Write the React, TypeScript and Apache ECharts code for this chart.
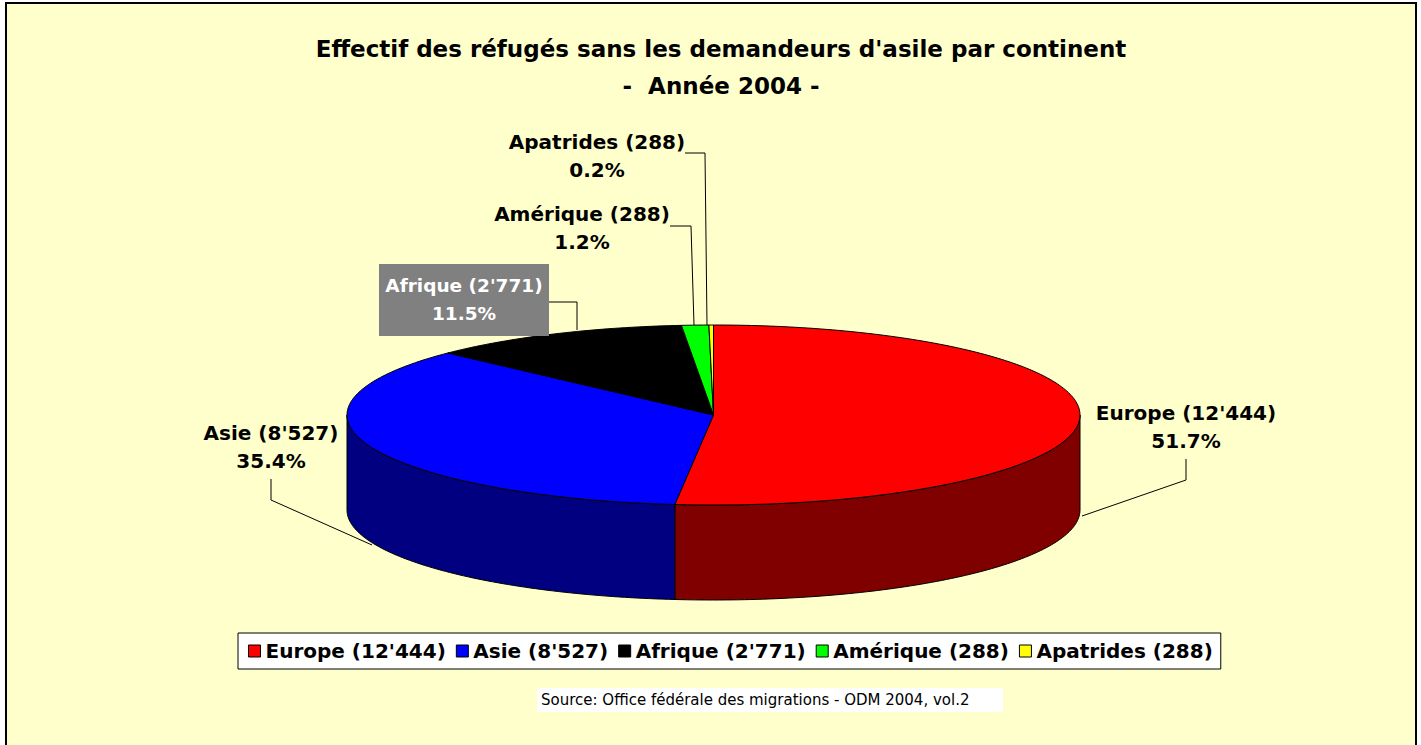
import React, { useEffect, useRef } from "react";
import * as echarts from "echarts";

const NAMES = ["Europe (12'444)", "Asie (8'527)", "Afrique (2'771)", "Amérique (288)", "Apatrides (288)"];
const VALUES = [12444, 8527, 2771, 288, 48];
const TOP_COLORS = ["#FF0000", "#0000FF", "#000000", "#00FF00", "#FFFF00"];
const SIDE_COLORS = ["#800000", "#000080", "#000000", "#008000", "#808000"];

const TITLE = "Effectif des réfugés sans les demandeurs d'asile par continent\n-  Année 2004 -";
const SOURCE = "Source: Office fédérale des migrations - ODM 2004, vol.2";

// layout (positions only)
const CX = 713.5, CY = 415, RX = 366.5, RY = 90, DEPTH = 95;
const LABEL_POS = [[1186, 427], [271, 447], [464, 299], [582, 228], [597, 156]];
const LABEL_SIZE = [20, 20, 18.5, 20, 20];
const LEADERS = [
  [[1186, 459], [1186, 480], [1082, 516]],
  [[271, 479], [271, 500], [372, 545]],
  [[549, 302], [577, 302], [577, 330]],
  [[670, 226], [691, 226], [694, 325]],
  [[685, 153], [705, 153], [707, 325]],
];
const BOLD_FONT = "'DejaVu Sans', 'Liberation Sans', Arial, sans-serif";
const FONT = "'DejaVu Sans', 'Liberation Sans', Arial, sans-serif";

const TOTAL = VALUES.reduce((a, b) => a + b, 0);
const CUM: number[] = [];
VALUES.reduce((acc, v) => { CUM.push(acc); return acc + v; }, 0);

function pt(theta: number, dy = 0): number[] {
  return [CX + RX * Math.sin(theta), CY - RY * Math.cos(theta) + dy];
}
function arc(a: number, b: number, dy = 0): number[][] {
  const pts: number[][] = [];
  const n = Math.max(2, Math.ceil(((b - a) * 180) / Math.PI));
  for (let k = 0; k <= n; k++) pts.push(pt(a + ((b - a) * k) / n, dy));
  return pts;
}

export default function App() {
  const ref = useRef<HTMLDivElement>(null);
  useEffect(() => {
    document.body.style.margin = "0";
    const chart = echarts.init(ref.current!, null, { renderer: "svg" });

    const series = NAMES.map((name, i) => ({
      type: "custom",
      name,
      coordinateSystem: "none",
      silent: true,
      itemStyle: { color: TOP_COLORS[i] },
      data: [[VALUES[i]]],
      renderItem: (params: any, api: any) => {
        const v = api.value(0);
        const a0 = (CUM[i] / TOTAL) * Math.PI * 2;
        const a1 = a0 + (v / TOTAL) * Math.PI * 2;
        const children: any[] = [];
        const s = Math.max(a0, Math.PI / 2);
        const e = Math.min(a1, (Math.PI * 3) / 2);
        if (e > s) {
          const top = arc(s, e);
          const bot = arc(s, e, DEPTH).reverse();
          children.push({
            type: "polygon",
            shape: { points: top.concat(bot) },
            style: { fill: SIDE_COLORS[i], stroke: "#000", lineWidth: 1 },
          });
        }
        children.push({
          type: "polygon",
          shape: { points: [[CX, CY]].concat(arc(a0, a1)) },
          style: { fill: TOP_COLORS[i], stroke: "#000", lineWidth: 1 },
        });
        return { type: "group", children };
      },
    }));

    const pct = VALUES.map((v) => ((v / TOTAL) * 100).toFixed(1) + "%");
    const labelGraphics: any[] = [];
    NAMES.forEach((name, i) => {
      const [x, y] = LABEL_POS[i];
      if (i === 2) {
        labelGraphics.push({
          type: "rect",
          shape: { x: 379, y: 264, width: 170, height: 72 },
          style: { fill: "#808080" },
          z: 10,
        });
      }
      labelGraphics.push({
        type: "text",
        x,
        y,
        z: 11,
        style: {
          text: name + "\n" + pct[i],
          fill: i === 2 ? "#FFFFFF" : "#000000",
          font: `bold ${LABEL_SIZE[i]}px ${BOLD_FONT}`,
          lineHeight: 28,
          align: "center",
          verticalAlign: "middle",
        },
      });
      labelGraphics.push({
        type: "polyline",
        z: 12,
        shape: { points: LEADERS[i] },
        style: { stroke: "#000", lineWidth: 1, fill: null },
      });
    });

    chart.setOption({
      animation: false,
      backgroundColor: "#FFFFFF",
      title: {
        text: TITLE,
        left: 716,
        textAlign: "center",
        top: 25,
        textStyle: { fontFamily: BOLD_FONT, fontSize: 23, fontWeight: "bold", color: "#000", lineHeight: 37 },
      },
      legend: {
        data: NAMES,
        left: 238,
        top: 633,
        icon: "rect",
        itemWidth: 12,
        itemHeight: 12,
        itemGap: 10,
        padding: [8, 8, 8, 10],
        backgroundColor: "#FFFFFF",
        borderColor: "#000",
        borderWidth: 1,
        itemStyle: { borderColor: "#000", borderWidth: 1 },
        textStyle: { fontFamily: BOLD_FONT, fontSize: 20, fontWeight: "bold", color: "#000" },
        selectedMode: false,
      },
      graphic: [
        {
          type: "rect",
          z: -10,
          shape: { x: 6, y: 3, width: 1410, height: 800 },
          style: { fill: "#FFFFCC", stroke: "#000", lineWidth: 2 },
        },
        {
          type: "rect",
          z: 1,
          shape: { x: 537, y: 688, width: 466, height: 24 },
          style: { fill: "#FFFFFF" },
        },
        {
          type: "text",
          x: 541,
          y: 700,
          z: 2,
          style: { text: SOURCE, font: `15px ${FONT}`, fill: "#000", verticalAlign: "middle" },
        },
        ...labelGraphics,
      ],
      series,
    });
    return () => chart.dispose();
  }, []);
  return <div ref={ref} style={{ width: 1421, height: 745 }} />;
}
